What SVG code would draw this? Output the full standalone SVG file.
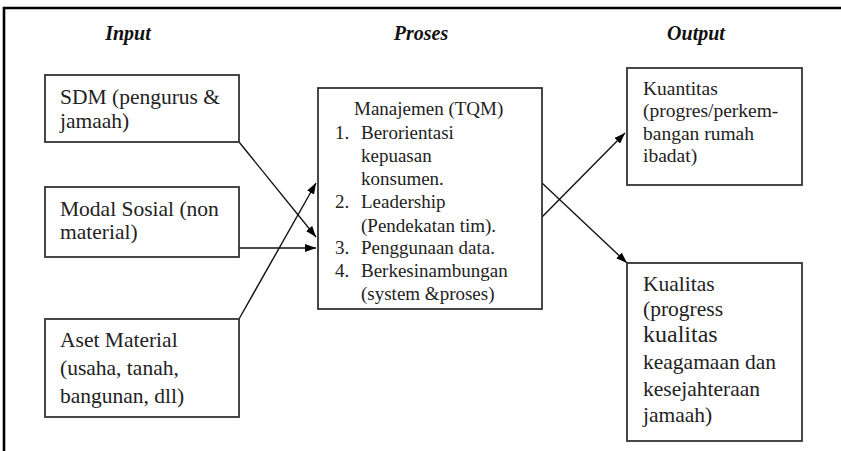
<svg xmlns="http://www.w3.org/2000/svg" width="841" height="451" viewBox="0 0 841 451">
<defs>
<style>
.frame{fill:none;stroke:#000;stroke-width:2.6}
.box{fill:#fff;stroke:#333;stroke-width:1.8}
.t{font-family:"Liberation Serif","Times New Roman",serif;fill:#222}
.h{font-family:"Liberation Serif","Times New Roman",serif;font-style:italic;font-weight:bold;font-size:20px;fill:#111;text-anchor:middle}
.l{font-size:21.5px}
.m{font-size:19px}
.k{font-size:19.5px}
.q{font-size:21.5px}
.c{fill:none;stroke:#111;stroke-width:1.4}
</style>
<marker id="ah" markerUnits="userSpaceOnUse" markerWidth="11" markerHeight="8" refX="11" refY="4" orient="auto">
<path d="M0,0 L11,4 L0,8 z" fill="#000"/>
</marker>
</defs>
<rect width="841" height="451" fill="#fff"/>
<path class="frame" d="M4,451 L4,8 L841,8"/>
<g id="headers">
<text class="h" x="128" y="40">Input</text>
<text class="h" x="421" y="40">Proses</text>
<text class="h" x="696" y="40">Output</text>
</g>
<g id="connectors">
<line class="c" x1="239" y1="142" x2="316" y2="237" marker-end="url(#ah)"/>
<line class="c" x1="239" y1="248" x2="316" y2="248" marker-end="url(#ah)"/>
<line class="c" x1="239" y1="319" x2="316" y2="183" marker-end="url(#ah)"/>
<line class="c" x1="542" y1="217" x2="625" y2="133" marker-end="url(#ah)"/>
<line class="c" x1="542" y1="183" x2="627" y2="263" marker-end="url(#ah)"/>
</g>
<g id="sdm">
<rect class="box" x="45" y="75" width="194" height="67"/>
<text class="t l" x="60" y="104">SDM (pengurus &amp;</text>
<text class="t l" x="60" y="128">jamaah)</text>
</g>
<g id="modal">
<rect class="box" x="45" y="187" width="194" height="70"/>
<text class="t l" x="60" y="216">Modal Sosial (non</text>
<text class="t l" x="60" y="239">material)</text>
</g>
<g id="aset">
<rect class="box" x="45" y="319" width="194" height="98"/>
<text class="t l" x="60" y="347">Aset Material</text>
<text class="t l" x="60" y="375">(usaha, tanah,</text>
<text class="t l" x="60" y="403">bangunan, dll)</text>
</g>
<g id="manajemen">
<rect class="box" x="318" y="88" width="224" height="221"/>
<text class="t m" x="354" y="115">Manajemen (TQM)</text>
<text class="t m" x="335" y="139">1.</text>
<text class="t m" x="361" y="139">Berorientasi</text>
<text class="t m" x="361" y="162">kepuasan</text>
<text class="t m" x="361" y="185">konsumen.</text>
<text class="t m" x="335" y="208">2.</text>
<text class="t m" x="361" y="208">Leadership</text>
<text class="t m" x="361" y="232">(Pendekatan tim).</text>
<text class="t m" x="335" y="254">3.</text>
<text class="t m" x="361" y="254">Penggunaan data.</text>
<text class="t m" x="335" y="277">4.</text>
<text class="t m" x="361" y="277">Berkesinambungan</text>
<text class="t m" x="361" y="300">(system &amp;proses)</text>
</g>
<g id="kuantitas">
<rect class="box" x="627" y="68" width="175" height="117"/>
<text class="t k" x="643" y="95">Kuantitas</text>
<text class="t k" x="643" y="117">(progres/perkem-</text>
<text class="t k" x="643" y="140">bangan rumah</text>
<text class="t k" x="643" y="162">ibadat)</text>
</g>
<g id="kualitas">
<rect class="box" x="627" y="263" width="175" height="178"/>
<text class="t q" x="643" y="291">Kualitas</text>
<text class="t q" x="643" y="316">(progress</text>
<text class="t" style="font-size:24px" x="643" y="342">kualitas</text>
<text class="t q" x="643" y="369">keagamaan dan</text>
<text class="t q" x="643" y="396">kesejahteraan</text>
<text class="t q" x="643" y="422">jamaah)</text>
</g>
</svg>
